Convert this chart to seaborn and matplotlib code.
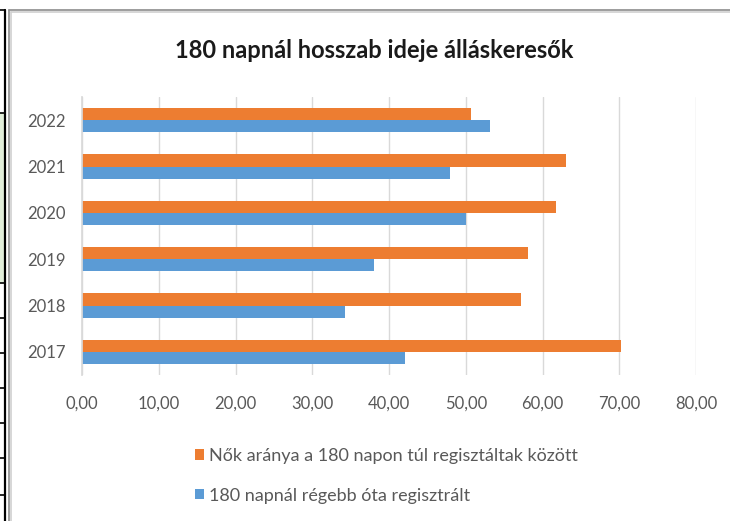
import numpy as np
import pandas as pd
import matplotlib
matplotlib.use("Agg")
import matplotlib.pyplot as plt
import seaborn as sns
from matplotlib.lines import Line2D
from matplotlib.patches import Rectangle
from matplotlib.ticker import FuncFormatter

# ── Data ─────────────────────────────────────────────────
YEARS       = ["2022", "2021", "2020", "2019", "2018", "2017"]
WOMEN_SHARE = [50.7, 63.0, 61.8, 58.1, 57.2, 70.2]
LONG_TERM   = [53.1, 48.0, 50.0, 38.0, 34.3, 42.1]
SERIES      = ["Nők aránya a 180 napon túl regisztáltak között",
               "180 napnál régebb óta regisztrált"]
X_TICKS     = [0, 10, 20, 30, 40, 50, 60, 70, 80]
TITLE       = "180 napnál hosszab ideje álláskeresők"

COLORS = {SERIES[0]: "#ED7D31", SERIES[1]: "#5B9BD5"}
GRID   = "#D9D9D9"
TEXT   = "#595959"

df = pd.DataFrame({
    "year":   YEARS * 2,
    "value":  WOMEN_SHARE + LONG_TERM,
    "series": [SERIES[0]] * len(YEARS) + [SERIES[1]] * len(YEARS),
})

sns.set_theme(style="white")
plt.rcParams["font.family"] = ["Lato", "DejaVu Sans"]

W, H = 730, 521
fig = plt.figure(figsize=(W / 100, H / 100), dpi=100)
ax = fig.add_axes([82 / W, 1 - 375 / H, (696 - 82) / W, (375 - 97) / H])

sns.barplot(data=df, x="value", y="year", hue="series", order=YEARS,
            hue_order=SERIES, palette=COLORS, width=0.52, saturation=1,
            orient="h", linewidth=0, ax=ax)

ax.set_xlim(0, 80)
ax.set_xticks(X_TICKS)
ax.xaxis.set_major_formatter(FuncFormatter(lambda v, _: f"{v:.2f}".replace(".", ",")))
ax.set_xlabel(""); ax.set_ylabel("")
ax.xaxis.grid(True, color=GRID, linewidth=1)
ax.set_axisbelow(True)
for s in ["top", "right", "bottom"]:
    ax.spines[s].set_visible(False)
ax.spines["left"].set_color(GRID)
ax.tick_params(axis="x", length=0, pad=15, labelsize=12, labelcolor=TEXT)
ax.tick_params(axis="y", length=0, pad=12, labelsize=12, labelcolor=TEXT)

# legend below the plot, one entry per row
handles, labels = ax.get_legend_handles_labels()
ax.legend(handles, labels, loc="upper left", bbox_to_anchor=(186 / W, 1 - 439 / H),
          bbox_transform=fig.transFigure, frameon=False, fontsize=13,
          handlelength=0.5, handleheight=0.5, handletextpad=0.3,
          labelspacing=1.3, borderpad=0, labelcolor=TEXT)

fig.text(374 / W, 1 - 50 / H, TITLE, ha="center", va="center",
         fontsize=17, fontweight="bold", color="#1a1a1a")

# chart frame (gray double line)
for x, c in [(9, "#8c8c8c"), (11, "#d0d0d0")]:
    fig.add_artist(Line2D([x / W, x / W], [0, 1 - (x + 1) / H], color=c, lw=1.2,
                          transform=fig.transFigure))
for y, c in [(10, "#8c8c8c"), (12, "#d0d0d0")]:
    fig.add_artist(Line2D([(y - 1) / W, 1], [1 - y / H, 1 - y / H], color=c, lw=1.2,
                          transform=fig.transFigure))

# spreadsheet cell edges at the left
fig.add_artist(Rectangle((0, 1 - 283 / H), 4 / W, (283 - 113) / H, color="#E2EFDA",
                         transform=fig.transFigure, lw=0))
fig.add_artist(Line2D([4.5 / W, 4.5 / W], [0, 1 - 10 / H], color="black", lw=1.6,
                      transform=fig.transFigure))
for y in [10, 113, 283, 318, 353, 388, 423, 458, 495]:
    fig.add_artist(Line2D([0, 4.5 / W], [1 - y / H, 1 - y / H], color="black", lw=1.2,
                          transform=fig.transFigure))

fig.savefig("out.png", dpi=100)
